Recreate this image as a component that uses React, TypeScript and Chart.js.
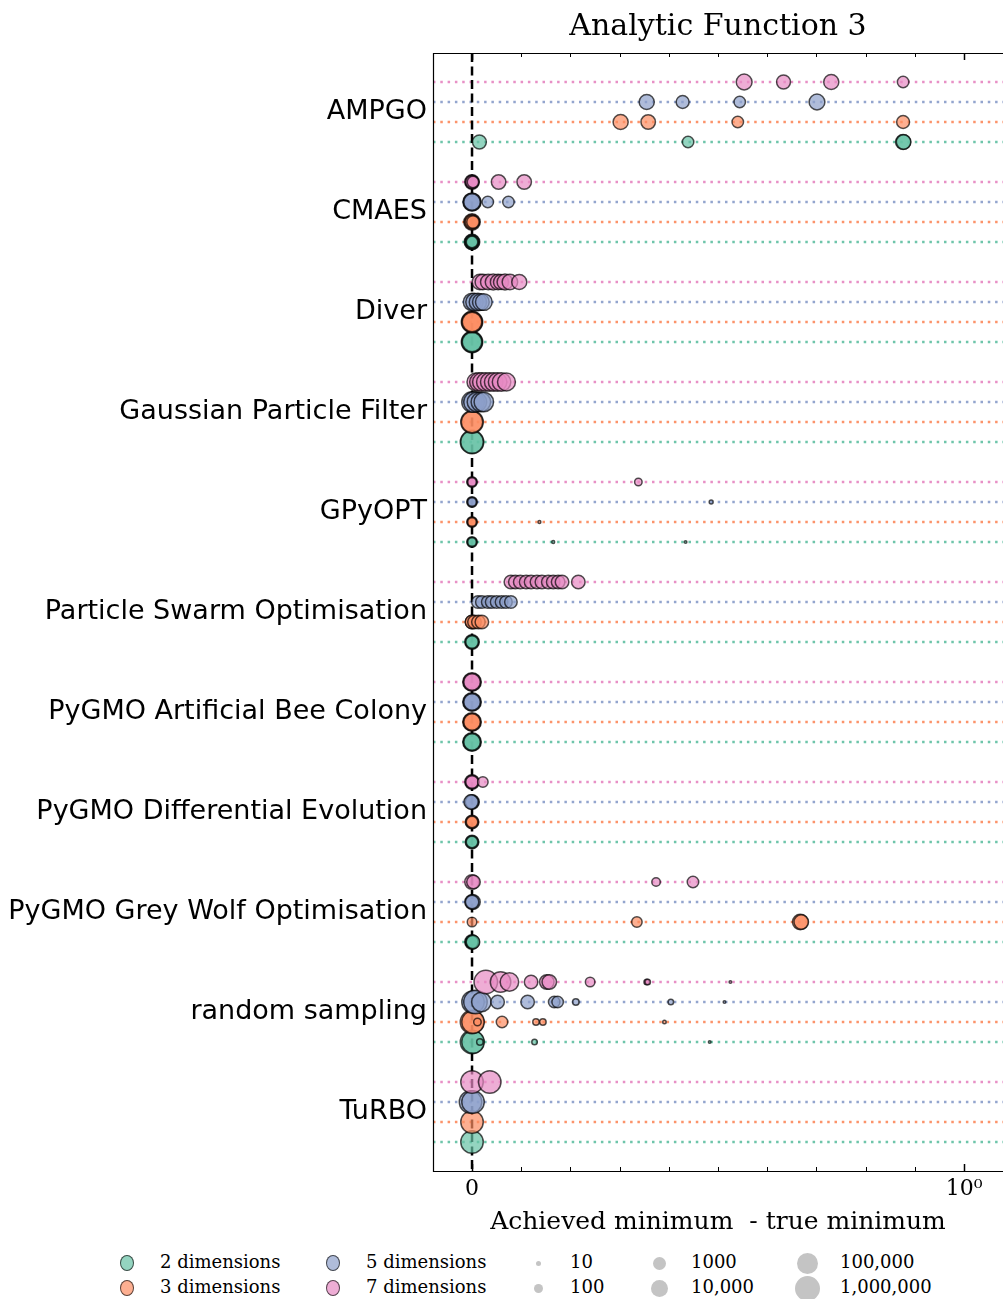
import React, { useEffect, useRef } from "react";
import { Chart, registerables } from "chart.js";

Chart.register(...registerables);

// ---------- data ----------
const chartTitle = "Analytic Function 3";
const xAxisTitle = "Achieved minimum  - true minimum";

const optimisers = [
  "AMPGO",
  "CMAES",
  "Diver",
  "Gaussian Particle Filter",
  "GPyOPT",
  "Particle Swarm Optimisation",
  "PyGMO Artificial Bee Colony",
  "PyGMO Differential Evolution",
  "PyGMO Grey Wolf Optimisation",
  "random sampling",
  "TuRBO",
];

const dimensionLabels = ["2 dimensions", "3 dimensions", "5 dimensions", "7 dimensions"];
const dimensionColors = ["#66c2a5", "#fc8d62", "#8da0cb", "#e78ac3"];

const sizeLegendEvals = [10, 100, 1000, 10000, 100000, 1000000];
const sizeLegendLabels = ["10", "100", "1000", "10,000", "100,000", "1,000,000"];

const xTickValues = [0, 1];
const xTickLabels = ["0", "10\u2070"];
const xMinorTickValues = [0.1, 0.2, 0.3, 0.4, 0.5, 0.6, 0.7, 0.8, 0.9];

// achieved minimum - true minimum (one list per optimiser, same order as `optimisers`)
const dim2Values: number[][] = [
  [0.015, 0.439, 0.876, 0.877],
  [0, 0, 0, 0, 0],
  [0, 0, 0],
  [0, 0],
  [0, 0, 0, 0.165, 0.434],
  [0, 0, 0],
  [0, 0, 0],
  [0, 0, 0],
  [0, 0, 0, 0.002],
  [0, 0.002, 0.016, 0.127, 0.483],
  [0],
];
const dim2Evals: number[][] = [
  [4000, 1000, 8000, 5600],
  [10000, 5600, 3200, 1800, 1000],
  [300000, 180000, 100000],
  [1000000, 560000],
  [560, 320, 180, 7, 6],
  [5600, 3200, 1800],
  [56000, 32000, 18000],
  [3200, 1800, 1000],
  [5600, 3200, 1800, 3200],
  [1000000, 560000, 56, 32, 6],
  [560000],
];

const dim3Values: number[][] = [
  [0.302, 0.358, 0.54, 0.876],
  [0, 0, 0, 0.002],
  [0, 0, 0],
  [0, 0],
  [0, 0, 0, 0.137],
  [0, 0, 0.005, 0.013, 0.02],
  [0, 0, 0],
  [0, 0, 0],
  [0, 0.335, 0.667, 0.669],
  [0, 0.002, 0.011, 0.061, 0.13, 0.144, 0.391],
  [0],
];
const dim3Evals: number[][] = [
  [8000, 5600, 1000, 2300],
  [18000, 8000, 3200, 1800],
  [300000, 180000, 100000],
  [560000, 300000],
  [560, 320, 180, 7],
  [3200, 3200, 3200, 3200, 3200],
  [56000, 32000, 18000],
  [3200, 1800, 1000],
  [320, 560, 10000, 5600],
  [1000000, 560000, 100, 1000, 56, 56, 10],
  [560000],
];

const dim5Values: number[][] = [
  [0.355, 0.428, 0.544, 0.701],
  [0, 0, 0, 0.032, 0.074],
  [0, 0.005, 0.012, 0.018, 0.024],
  [0, 0.004, 0.01, 0.018, 0.024],
  [0, 0, 0, 0.486],
  [0.012, 0.02, 0.032, 0.04, 0.05, 0.06, 0.069, 0.079],
  [0, 0, 0],
  [0, 0, -0.002],
  [0, 0.002, 0],
  [0.002, 0.007, 0.019, 0.052, 0.113, 0.167, 0.174, 0.211, 0.404, 0.513],
  [-0.003, 0.002],
];
const dim5Evals: number[][] = [
  [8000, 2300, 1000, 12000],
  [45000, 30000, 18000, 1000, 1000],
  [30000, 30000, 30000, 20000, 20000],
  [180000, 180000, 100000, 100000, 100000],
  [560, 320, 180, 13],
  [1800, 1800, 1800, 1800, 1800, 1800, 1800, 1800],
  [56000, 32000, 18000],
  [5600, 3200, 5000],
  [5600, 5600, 3200],
  [560000, 1000000, 100000, 3200, 3200, 1000, 1000, 56, 32, 6],
  [560000, 560000],
];

const dim7Values: number[][] = [
  [0.553, 0.633, 0.73, 0.876],
  [0, 0, 0, 0.002, 0.054, 0.106],
  [0.016, 0.022, 0.033, 0.043, 0.053, 0.059, 0.067, 0.077, 0.096],
  [0.008, 0.014, 0.02, 0.028, 0.036, 0.044, 0.052, 0.06, 0.07],
  [0, 0, 0, 0.338],
  [0.079, 0.088, 0.098, 0.11, 0.12, 0.132, 0.142, 0.155, 0.165, 0.175, 0.183, 0.216],
  [0, 0, 0],
  [0, 0, 0, 0.022],
  [0, 0.003, 0.374, 0.449],
  [0.028, 0.058, 0.076, 0.12, 0.152, 0.157, 0.24, 0.355, 0.357, 0.525],
  [0, 0.036],
];
const dim7Evals: number[][] = [
  [12000, 4000, 8000, 1000],
  [5600, 3200, 1800, 1000, 5600, 5600],
  [10000, 10000, 10000, 12000, 10000, 8000, 12000, 10000, 8000],
  [40000, 56000, 56000, 56000, 56000, 56000, 56000, 56000, 40000],
  [560, 320, 180, 100],
  [3200, 3200, 3200, 3200, 3200, 3200, 3200, 3200, 3200, 3200, 3200, 3200],
  [56000, 32000, 18000],
  [5600, 3200, 1800, 560],
  [5600, 3200, 180, 1000],
  [1000000, 180000, 56000, 3200, 5600, 5600, 320, 32, 32, 6],
  [560000, 560000],
];

// ---------- layout constants ----------
const W = 1003;
const H = 1250;
const PLOT_LEFT = 433;
const PLOT_BOTTOM = 1171;
const X_MIN = -0.0793;
const X_MAX = 1.079;
const Y_MIN = -1.45;
const Y_MAX = 54.45;
const BORDER_W = 1.5;

const dimValues = [dim2Values, dim3Values, dim5Values, dim7Values];
const dimEvals = [dim2Evals, dim3Evals, dim5Evals, dim7Evals];

function rowY(group: number, dim: number) {
  return 5 * group + (3 - dim);
}
function diameter(evals: number) {
  return 4 * Math.log10(evals) + 1;
}
function rgba(hex: string, a: number) {
  const n = parseInt(hex.slice(1), 16);
  return `rgba(${(n >> 16) & 255},${(n >> 8) & 255},${n & 255},${a})`;
}

const framePlugin = {
  id: "frameTicks",
  afterDraw(chart: any) {
    const { ctx, chartArea, scales } = chart;
    const { left, right, top, bottom } = chartArea;
    const x = scales.x;
    ctx.save();
    ctx.strokeStyle = "#000";
    ctx.lineWidth = 1.2;
    ctx.beginPath();
    ctx.moveTo(left + 0.5, top + 0.5);
    ctx.lineTo(right, top + 0.5);
    ctx.moveTo(left + 0.5, top);
    ctx.lineTo(left + 0.5, bottom + 0.5);
    ctx.lineTo(right, bottom + 0.5);
    ctx.stroke();
    const drawTick = (v: number, len: number, lw: number) => {
      const px = Math.round(x.getPixelForValue(v)) + 0.5;
      ctx.lineWidth = lw;
      ctx.beginPath();
      ctx.moveTo(px, bottom);
      ctx.lineTo(px, bottom - len);
      ctx.moveTo(px, top);
      ctx.lineTo(px, top + len);
      ctx.stroke();
    };
    xTickValues.forEach((v) => drawTick(v, 7, 1.5));
    xMinorTickValues.forEach((v) => drawTick(v, 4, 1));
    ctx.restore();
  },
};

export default function App() {
  const canvasRef = useRef<HTMLCanvasElement>(null);

  useEffect(() => {
    const canvas = canvasRef.current;
    if (!canvas) return;
    const datasets: any[] = [];

    // dotted row guide lines
    dimensionColors.forEach((color, d) => {
      optimisers.forEach((_, g) => {
        const y = rowY(g, d);
        datasets.push({
          type: "line",
          data: [
            { x: X_MIN, y },
            { x: X_MAX, y },
          ],
          borderColor: rgba(color, 0.95),
          borderWidth: 2.5,
          borderDash: [2.5, 4.8],
          borderCapStyle: "butt",
          pointRadius: 0,
          fill: false,
          order: 10,
        });
      });
    });

    // dashed zero line
    datasets.push({
      type: "line",
      data: [
        { x: 0, y: Y_MIN },
        { x: 0, y: Y_MAX },
      ],
      borderColor: "#000",
      borderWidth: 2.5,
      borderDash: [9, 4.5],
      pointRadius: 0,
      fill: false,
      order: 5,
    });

    // bubbles
    dimensionColors.forEach((color, d) => {
      const data: any[] = [];
      optimisers.forEach((_, g) => {
        dimValues[d][g].forEach((v, i) => {
          const n = dimEvals[d][g][i];
          data.push({ x: v, y: rowY(g, d), r: Math.max(0.5, (diameter(n) - BORDER_W) / 2) });
        });
      });
      datasets.push({
        type: "bubble",
        label: dimensionLabels[d],
        data,
        backgroundColor: rgba(color, 0.7),
        borderColor: "rgba(0,0,0,0.68)",
        borderWidth: BORDER_W,
        hoverBorderWidth: BORDER_W,
        order: -d,
      });
    });

    const chart = new Chart(canvas, {
      type: "bubble",
      data: { datasets },
      plugins: [framePlugin],
      options: {
        animation: false,
        responsive: false,
        events: [],
        layout: { padding: 0, autoPadding: false },
        plugins: {
          legend: { display: false },
          tooltip: { enabled: false },
          title: {
            display: true,
            fullSize: false,
            text: chartTitle,
            color: "#000",
            font: { family: "DejaVu Serif", size: 30, weight: "normal" },
            padding: { top: 9, bottom: 8 },
          },
        },
        scales: {
          x: {
            type: "linear",
            min: X_MIN,
            max: X_MAX,
            grid: { display: false, drawTicks: false },
            border: { display: false },
            afterBuildTicks: (s: any) => {
              s.ticks = xTickValues.map((v) => ({ value: v }));
            },
            afterFit: (s: any) => {
              s.height = H - PLOT_BOTTOM;
              s.paddingLeft = 0;
              s.paddingRight = 0;
            },
            ticks: {
              autoSkip: false,
              maxRotation: 0,
              color: "#000",
              padding: 5,
              font: { family: "DejaVu Serif", size: 22 },
              callback: (_v: any, i: number) => xTickLabels[i],
            },
            title: {
              display: true,
              text: xAxisTitle,
              color: "#000",
              font: { family: "DejaVu Serif", size: 25 },
              padding: { top: 0, bottom: 13 },
            },
          },
          y: {
            type: "linear",
            reverse: true,
            min: Y_MIN,
            max: Y_MAX,
            grid: { display: false, drawTicks: false },
            border: { display: false },
            afterBuildTicks: (s: any) => {
              s.ticks = optimisers.map((_, g) => ({ value: 5 * g + 1.5 }));
            },
            afterFit: (s: any) => {
              s.width = PLOT_LEFT;
              s.paddingTop = 0;
              s.paddingBottom = 0;
            },
            ticks: {
              autoSkip: false,
              color: "#000",
              padding: 6,
              font: { family: "DejaVu Sans", size: 27 },
              callback: (_v: any, i: number) => optimisers[i],
            },
          },
        },
      } as any,
    });
    return () => chart.destroy();
  }, []);

  const legendRows = [1263, 1288];
  const dimLegendCols = [
    { cx: 127, tx: 160 },
    { cx: 333, tx: 366 },
  ];
  const sizeLegendCols = [
    { cx: 538, tx: 570 },
    { cx: 659, tx: 691 },
    { cx: 807, tx: 840 },
  ];
  const textStyle: React.CSSProperties = {
    position: "absolute",
    fontFamily: "DejaVu Serif",
    fontSize: 18,
    lineHeight: "20px",
    height: 20,
    color: "#000",
    whiteSpace: "nowrap",
  };

  return (
    <div style={{ position: "absolute", left: 0, top: 0, width: W, height: 1299, background: "#fff", overflow: "hidden" }}>
      <canvas ref={canvasRef} width={W} height={H} style={{ position: "absolute", left: 0, top: 0, width: W, height: H }} />
      {dimensionLabels.map((label, d) => {
        const col = dimLegendCols[Math.floor(d / 2)];
        const cy = legendRows[d % 2];
        return (
          <React.Fragment key={label}>
            <div
              style={{
                position: "absolute",
                left: col.cx - 7,
                top: cy - 8,
                width: 14,
                height: 16,
                boxSizing: "border-box",
                borderRadius: "50%",
                background: rgba(dimensionColors[d], 0.7),
                border: "1.5px solid rgba(0,0,0,0.65)",
              }}
            />
            <div style={{ ...textStyle, left: col.tx, top: cy - 11 }}>{label}</div>
          </React.Fragment>
        );
      })}
      {sizeLegendEvals.map((n, i) => {
        const col = sizeLegendCols[Math.floor(i / 2)];
        const cy = legendRows[i % 2];
        const dm = diameter(n);
        return (
          <React.Fragment key={n}>
            <div
              style={{
                position: "absolute",
                left: col.cx - dm / 2,
                top: cy - dm / 2,
                width: dm,
                height: dm,
                borderRadius: "50%",
                background: "#c4c4c4",
              }}
            />
            <div style={{ ...textStyle, left: col.tx, top: cy - 11 }}>{sizeLegendLabels[i]}</div>
          </React.Fragment>
        );
      })}
    </div>
  );
}
